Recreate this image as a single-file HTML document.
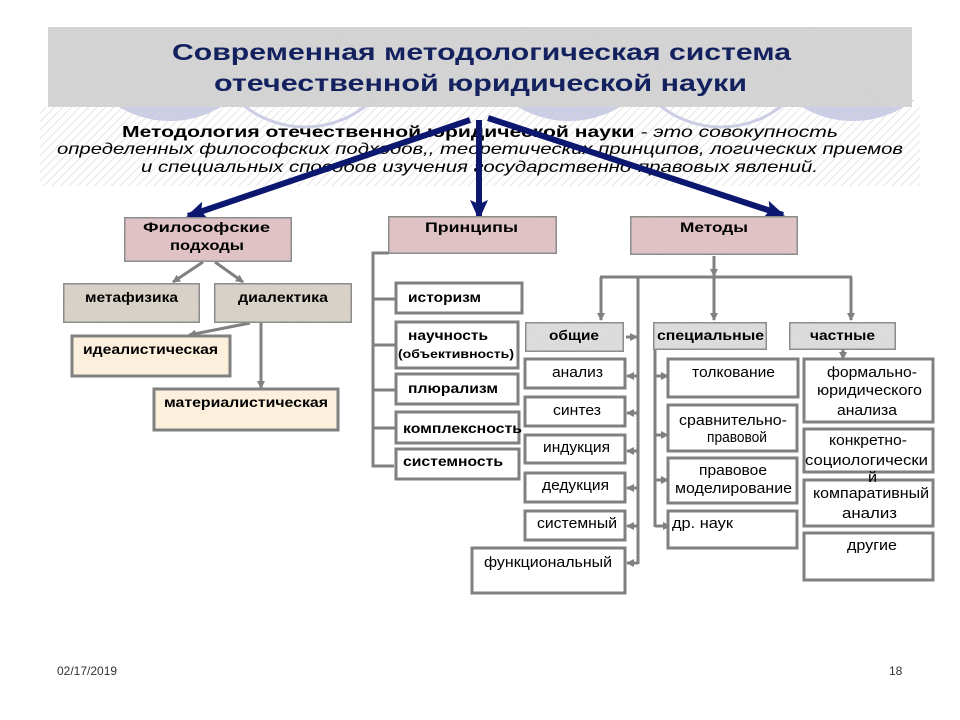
<!DOCTYPE html>
<html><head><meta charset="utf-8"><style>
html,body{margin:0;padding:0;background:#fff;}
svg{display:block;}
text{font-family:"Liberation Sans",Arial,sans-serif;}
</style></head><body>
<svg width="960" height="720" viewBox="0 0 960 720" xmlns="http://www.w3.org/2000/svg">
<defs>
<pattern id="hatch" width="6" height="6" patternUnits="userSpaceOnUse" patternTransform="rotate(45)">
<line x1="0" y1="0" x2="0" y2="6" stroke="#d4d4d4" stroke-width="1.2"/>
</pattern>
<filter id="noise" x="0" y="0" width="100%" height="100%">
<feTurbulence type="fractalNoise" baseFrequency="0.9" numOctaves="2" seed="3" result="n"/>
<feColorMatrix type="matrix" values="0 0 0 0 0.5  0 0 0 0 0.5  0 0 0 0 0.5  0 0 0 0.35 0" in="n" result="g"/>
<feComposite in="g" in2="SourceGraphic" operator="in" result="m"/>
<feMerge><feMergeNode in="SourceGraphic"/><feMergeNode in="m"/></feMerge>
</filter>
<clipPath id="circClip"><rect x="40" y="100" width="880" height="40"/></clipPath>
<marker id="ga" markerWidth="8" markerHeight="8" refX="7" refY="4" orient="auto" markerUnits="userSpaceOnUse">
<path d="M0,0 L8,4 L0,8 z" fill="#808080"/>
</marker>
<marker id="na" markerWidth="20" markerHeight="18" refX="18" refY="9" orient="auto" markerUnits="userSpaceOnUse">
<path d="M0,0 L20,9 L0,18 L4,9 z" fill="#0c1870"/>
</marker>
</defs>

<!-- decorative circles -->
<g clip-path="url(#circClip)">
<circle cx="170" cy="21" r="100" fill="#cbcde6"/>
<circle cx="569" cy="21" r="100" fill="#cbcde6"/>
<circle cx="853" cy="21" r="100" fill="#cbcde6"/>
<circle cx="305" cy="29" r="98" fill="none" stroke="#cbcde6" stroke-width="3"/>
<circle cx="721" cy="29" r="98" fill="none" stroke="#cbcde6" stroke-width="3"/>
</g>

<!-- hatched band -->
<rect x="40" y="107" width="880" height="79" fill="url(#hatch)"/>

<!-- header band -->
<rect x="48" y="27" width="864" height="80" fill="#d8d8d8" filter="url(#noise)"/>

<!-- title -->
<text x="172" y="60" font-size="23" font-weight="bold" fill="#13225f" textLength="619" lengthAdjust="spacingAndGlyphs">Современная методологическая система</text>
<text x="214" y="91" font-size="23" font-weight="bold" fill="#13225f" textLength="533" lengthAdjust="spacingAndGlyphs">отечественной юридической науки</text>

<!-- subtitle -->
<text x="122" y="137" font-size="16" fill="#000" textLength="716" lengthAdjust="spacingAndGlyphs"><tspan font-weight="bold">Методология отечественной юридической науки</tspan><tspan font-style="italic"> - это совокупность</tspan></text>
<text x="57" y="154" font-size="16" font-style="italic" fill="#000" textLength="846" lengthAdjust="spacingAndGlyphs">определенных философских подходов,, теоретических принципов, логических приемов</text>
<text x="141" y="172" font-size="16" font-style="italic" fill="#000" textLength="677" lengthAdjust="spacingAndGlyphs">и специальных способов изучения государственно-правовых явлений.</text>

<!-- navy arrows -->
<g stroke="#0c1870" stroke-width="6" fill="none">
<line x1="470" y1="120" x2="188" y2="216" marker-end="url(#na)"/>
<line x1="479" y1="120" x2="479" y2="218" marker-end="url(#na)"/>
<line x1="488" y1="118" x2="783" y2="215" marker-end="url(#na)"/>
</g>

<!-- grey connectors -->
<g stroke="#808080" stroke-width="3" fill="none">
<line x1="203" y1="262" x2="173" y2="282" marker-end="url(#ga)"/>
<line x1="215" y1="262" x2="243" y2="282" marker-end="url(#ga)"/>
<line x1="250" y1="323" x2="189" y2="335" marker-end="url(#ga)"/>
<line x1="261" y1="323" x2="261" y2="388" marker-end="url(#ga)"/>

<path d="M389,253 H373 V466 H394"/>
<line x1="373" y1="299" x2="395" y2="299"/>
<line x1="373" y1="345" x2="395" y2="345"/>
<line x1="373" y1="390" x2="395" y2="390"/>
<line x1="373" y1="428" x2="395" y2="428"/>

<line x1="714" y1="256" x2="714" y2="276" marker-end="url(#ga)"/>
<line x1="600" y1="277" x2="852" y2="277"/>
<line x1="601" y1="277" x2="601" y2="320" marker-end="url(#ga)"/>
<line x1="714" y1="277" x2="714" y2="320" marker-end="url(#ga)"/>
<line x1="851" y1="277" x2="851" y2="320" marker-end="url(#ga)"/>
<line x1="638" y1="277" x2="638" y2="564"/>
<line x1="626" y1="337" x2="637" y2="337" marker-end="url(#ga)"/>
<line x1="638" y1="376" x2="627" y2="376" marker-end="url(#ga)"/>
<line x1="638" y1="413" x2="627" y2="413" marker-end="url(#ga)"/>
<line x1="638" y1="451" x2="627" y2="451" marker-end="url(#ga)"/>
<line x1="638" y1="488" x2="627" y2="488" marker-end="url(#ga)"/>
<line x1="638" y1="526" x2="627" y2="526" marker-end="url(#ga)"/>
<line x1="638" y1="563" x2="627" y2="563" marker-end="url(#ga)"/>
<line x1="655" y1="350" x2="655" y2="527"/>
<line x1="655" y1="376" x2="668" y2="376" marker-end="url(#ga)"/>
<line x1="655" y1="435" x2="668" y2="435" marker-end="url(#ga)"/>
<line x1="655" y1="480" x2="668" y2="480" marker-end="url(#ga)"/>
<line x1="655" y1="526" x2="670" y2="526" marker-end="url(#ga)"/>
<line x1="843" y1="350" x2="843" y2="359" marker-end="url(#ga)"/>
</g>

<!-- boxes -->
<g stroke="#808080" stroke-width="3">
<rect x="124" y="217" width="168" height="45" fill="#e6c4c7" filter="url(#noise)"/>
<rect x="388" y="216" width="169" height="38" fill="#e6c4c7" filter="url(#noise)"/>
<rect x="630" y="216" width="168" height="39" fill="#e6c4c7" filter="url(#noise)"/>

<rect x="63" y="283" width="137" height="40" fill="#ddd6cb" filter="url(#noise)"/>
<rect x="214" y="283" width="138" height="40" fill="#ddd6cb" filter="url(#noise)"/>
<rect x="72" y="336" width="158" height="40" fill="#fcf0dc"/>
<rect x="154" y="389" width="184" height="41" fill="#fcf0dc"/>

<rect x="396" y="283" width="126" height="30" fill="#fff"/>
<rect x="396" y="322" width="122" height="46" fill="#fff"/>
<rect x="396" y="374" width="122" height="30" fill="#fff"/>
<rect x="396" y="412" width="123" height="31" fill="#fff"/>
<rect x="396" y="449" width="123" height="30" fill="#fff"/>

<rect x="525" y="322" width="99" height="30" fill="#e2e2e2" filter="url(#noise)"/>
<rect x="653" y="322" width="114" height="28" fill="#e2e2e2" filter="url(#noise)"/>
<rect x="789" y="322" width="107" height="28" fill="#e2e2e2" filter="url(#noise)"/>

<rect x="525" y="359" width="100" height="29" fill="#fff"/>
<rect x="525" y="397" width="100" height="29" fill="#fff"/>
<rect x="525" y="435" width="100" height="28" fill="#fff"/>
<rect x="525" y="473" width="100" height="29" fill="#fff"/>
<rect x="525" y="511" width="100" height="29" fill="#fff"/>
<rect x="472" y="548" width="153" height="45" fill="#fff"/>

<rect x="668" y="359" width="130" height="38" fill="#fff"/>
<rect x="668" y="405" width="129" height="46" fill="#fff"/>
<rect x="668" y="458" width="129" height="45" fill="#fff"/>
<rect x="668" y="511" width="129" height="37" fill="#fff"/>

<rect x="804" y="359" width="129" height="63" fill="#fff"/>
<rect x="804" y="429" width="129" height="43" fill="#fff"/>
<rect x="804" y="480" width="129" height="46" fill="#fff"/>
<rect x="804" y="533" width="129" height="47" fill="#fff"/>
</g>

<!-- box text bold -->
<g font-weight="bold" font-size="14" fill="#000">
<text x="143" y="232" textLength="127" lengthAdjust="spacingAndGlyphs">Философские</text>
<text x="170" y="250" textLength="74" lengthAdjust="spacingAndGlyphs">подходы</text>
<text x="425" y="232" textLength="93" lengthAdjust="spacingAndGlyphs">Принципы</text>
<text x="680" y="232" textLength="68" lengthAdjust="spacingAndGlyphs">Методы</text>
<text x="85" y="302" textLength="93" lengthAdjust="spacingAndGlyphs">метафизика</text>
<text x="238" y="302" textLength="90" lengthAdjust="spacingAndGlyphs">диалектика</text>
<text x="83" y="354" textLength="135" lengthAdjust="spacingAndGlyphs">идеалистическая</text>
<text x="164" y="407" textLength="164" lengthAdjust="spacingAndGlyphs">материалистическая</text>
<text x="408" y="302" textLength="73" lengthAdjust="spacingAndGlyphs">историзм</text>
<text x="408" y="340" textLength="80" lengthAdjust="spacingAndGlyphs">научность</text>
<text x="398" y="358" font-size="12" textLength="116" lengthAdjust="spacingAndGlyphs">(объективность)</text>
<text x="408" y="393" textLength="90" lengthAdjust="spacingAndGlyphs">плюрализм</text>
<text x="403" y="433" textLength="119" lengthAdjust="spacingAndGlyphs">комплексность</text>
<text x="403" y="466" textLength="100" lengthAdjust="spacingAndGlyphs">системность</text>
<text x="549" y="340" textLength="50" lengthAdjust="spacingAndGlyphs">общие</text>
<text x="657" y="340" textLength="107" lengthAdjust="spacingAndGlyphs">специальные</text>
<text x="810" y="340" textLength="65" lengthAdjust="spacingAndGlyphs">частные</text>
</g>

<!-- box text normal -->
<g font-size="15" fill="#000">
<text x="552" y="377" textLength="51" lengthAdjust="spacingAndGlyphs">анализ</text>
<text x="553" y="415" textLength="48" lengthAdjust="spacingAndGlyphs">синтез</text>
<text x="543" y="452" textLength="67" lengthAdjust="spacingAndGlyphs">индукция</text>
<text x="542" y="490" textLength="67" lengthAdjust="spacingAndGlyphs">дедукция</text>
<text x="537" y="528" textLength="80" lengthAdjust="spacingAndGlyphs">системный</text>
<text x="484" y="567" textLength="128" lengthAdjust="spacingAndGlyphs">функциональный</text>
<text x="692" y="377" textLength="83" lengthAdjust="spacingAndGlyphs">толкование</text>
<text x="679" y="425" textLength="108" lengthAdjust="spacingAndGlyphs">сравнительно-</text>
<text x="707" y="442" textLength="60" lengthAdjust="spacingAndGlyphs">правовой</text>
<text x="699" y="475" textLength="68" lengthAdjust="spacingAndGlyphs">правовое</text>
<text x="675" y="493" textLength="117" lengthAdjust="spacingAndGlyphs">моделирование</text>
<text x="672" y="528" textLength="61" lengthAdjust="spacingAndGlyphs">др. наук</text>
<text x="827" y="377" textLength="90" lengthAdjust="spacingAndGlyphs">формально-</text>
<text x="817" y="395" textLength="105" lengthAdjust="spacingAndGlyphs">юридического</text>
<text x="837" y="415" textLength="60" lengthAdjust="spacingAndGlyphs">анализа</text>
<text x="829" y="445" textLength="78" lengthAdjust="spacingAndGlyphs">конкретно-</text>
<text x="805" y="465" textLength="123" lengthAdjust="spacingAndGlyphs">социологически</text>
<text x="868" y="482" textLength="9" lengthAdjust="spacingAndGlyphs">й</text>
<text x="813" y="498" textLength="116" lengthAdjust="spacingAndGlyphs">компаративный</text>
<text x="842" y="518" textLength="55" lengthAdjust="spacingAndGlyphs">анализ</text>
<text x="847" y="550" textLength="50" lengthAdjust="spacingAndGlyphs">другие</text>
</g>

<!-- footer -->
<text x="57" y="675" font-size="12" fill="#333">02/17/2019</text>
<text x="889" y="675" font-size="12" fill="#333">18</text>
</svg>
</body></html>
